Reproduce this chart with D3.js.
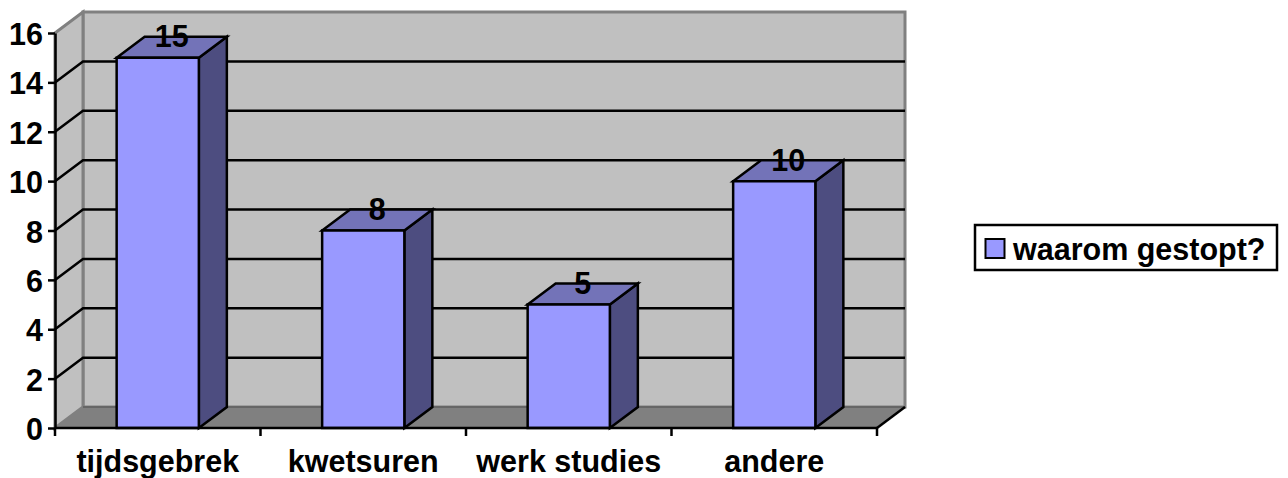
<!DOCTYPE html>
<html>
<head>
<meta charset="utf-8">
<script src="https://d3js.org/d3.v7.min.js"></script>
<style>
    html, body { margin: 0; padding: 0; background: #fff; }
    svg { display: block; }
    text { font-family: "Liberation Sans", Arial, sans-serif; font-weight: bold; fill: #000; }
</style>
</head>
<body>
<div id="container"></div>
<script>
const categories = ["tijdsgebrek", "kwetsuren", "werk studies", "andere"];
const values = [15, 8, 5, 10];
const yTicks = [0, 2, 4, 6, 8, 10, 12, 14, 16];
const seriesName = "waarom gestopt?";

const width = 1288;
const height = 478;
const left = 55;
const right = 877;
const bottom = 428;
const top16 = 33;
// the 3d offset of the back wall
const depthX = 28;
const depthY = 21;
const fontSize = 30.5;

const xScale = d3.scaleBand()
    .domain(categories)
    .range([left, right])
    .paddingInner(0.6)
    .paddingOuter(0.3);

// step between the category tick marks
const step = xScale.step();

const yScale = d3.scaleLinear()
    .domain([0, 16])
    .range([bottom, top16]);

const svg = d3.select("#container")
    .append("svg")
    .attr("width", width)
    .attr("height", height);

function poly(points, fill, stroke, strokeWidth) {
    return svg.append("polygon")
        .attr("points", points.map(p => p.join(",")).join(" "))
        .attr("fill", fill)
        .attr("stroke", stroke)
        .attr("stroke-width", strokeWidth)
        .attr("stroke-linejoin", "miter");
}

const wallTop = yScale(16);

//back wall
poly([[left + depthX, wallTop - depthY], [right + depthX, wallTop - depthY],
      [right + depthX, bottom - depthY], [left + depthX, bottom - depthY]], "#c0c0c0", "#808080", 3);
//left wall
poly([[left, wallTop], [left + depthX, wallTop - depthY],
      [left + depthX, bottom - depthY], [left, bottom]], "#c0c0c0", "#808080", 3);
//floor
poly([[left, bottom], [left + depthX, bottom - depthY],
      [right + depthX, bottom - depthY], [right, bottom]], "#808080", "#808080", 1);
svg.append("line")
    .attr("x1", left + depthX).attr("x2", right + depthX)
    .attr("y1", bottom - depthY).attr("y2", bottom - depthY)
    .attr("stroke", "#666").attr("stroke-width", 2);

//gridlines, along the left wall and the back wall
yTicks.filter(d => d > 0 && d < 16).forEach(d => {
    svg.append("polyline")
        .attr("points", [[left, yScale(d)], [left + depthX, yScale(d) - depthY],
                         [right + depthX, yScale(d) - depthY]].map(p => p.join(",")).join(" "))
        .attr("fill", "none")
        .attr("stroke", "#000")
        .attr("stroke-width", 2.5);
});

//front edge of the floor towards the right wall
svg.append("line")
    .attr("x1", right).attr("x2", right + depthX)
    .attr("y1", bottom).attr("y2", bottom - depthY)
    .attr("stroke", "#000").attr("stroke-width", 2.5);

//bars: side, top, then front
categories.forEach((c, i) => {
    const x0 = xScale(c);
    const x1 = x0 + xScale.bandwidth();
    const y = yScale(values[i]);
    poly([[x1, y], [x1 + depthX, y - depthY], [x1 + depthX, bottom - depthY], [x1, bottom]], "#4d4d80", "#000", 2.5);
    poly([[x0, y], [x0 + depthX, y - depthY], [x1 + depthX, y - depthY], [x1, y]], "#7373b8", "#000", 2.5);
    poly([[x0, y], [x1, y], [x1, bottom], [x0, bottom]], "#9999ff", "#000", 2.5);
});

//y axis
const yAxis = svg.append("g")
    .attr("transform", `translate(${left},0)`)
    .call(d3.axisLeft(yScale).tickValues(yTicks).tickSize(7).tickPadding(5).tickSizeOuter(0));
yAxis.selectAll("line, path").attr("stroke", "#000").attr("stroke-width", 2.5);
yAxis.selectAll("text")
    .attr("font-size", fontSize)
    .attr("dy", "0.38em")
    .style("font-family", "Liberation Sans")
    .style("font-weight", "bold");

//x axis, ticks sit between the categories
svg.append("line")
    .attr("x1", left).attr("x2", right)
    .attr("y1", bottom).attr("y2", bottom)
    .attr("stroke", "#000").attr("stroke-width", 2.5);
d3.range(categories.length + 1).forEach(i => {
    svg.append("line")
        .attr("x1", left + i * step).attr("x2", left + i * step)
        .attr("y1", bottom).attr("y2", bottom + 8)
        .attr("stroke", "#000").attr("stroke-width", 2.5);
});

categories.forEach(c => {
    svg.append("text")
        .attr("x", xScale(c) + xScale.bandwidth() / 2)
        .attr("y", 472)
        .attr("text-anchor", "middle")
        .attr("font-size", fontSize)
        .text(c);
});

//value labels over the top of each bar
values.forEach((v, i) => {
    svg.append("text")
        .attr("x", xScale(categories[i]) + xScale.bandwidth() / 2 + depthX / 2)
        .attr("y", yScale(v) - depthY + 10.5)
        .attr("text-anchor", "middle")
        .attr("font-size", fontSize)
        .text(v);
});

//legend
svg.append("rect")
    .attr("x", 975).attr("y", 225)
    .attr("width", 302).attr("height", 45)
    .attr("fill", "#fff").attr("stroke", "#000").attr("stroke-width", 2.5);
svg.append("rect")
    .attr("x", 985.5).attr("y", 239)
    .attr("width", 19).attr("height", 19)
    .attr("fill", "#9999ff").attr("stroke", "#000").attr("stroke-width", 2);
svg.append("text")
    .attr("x", 1013).attr("y", 260)
    .attr("font-size", fontSize)
    .text(seriesName);
</script>
</body>
</html>
